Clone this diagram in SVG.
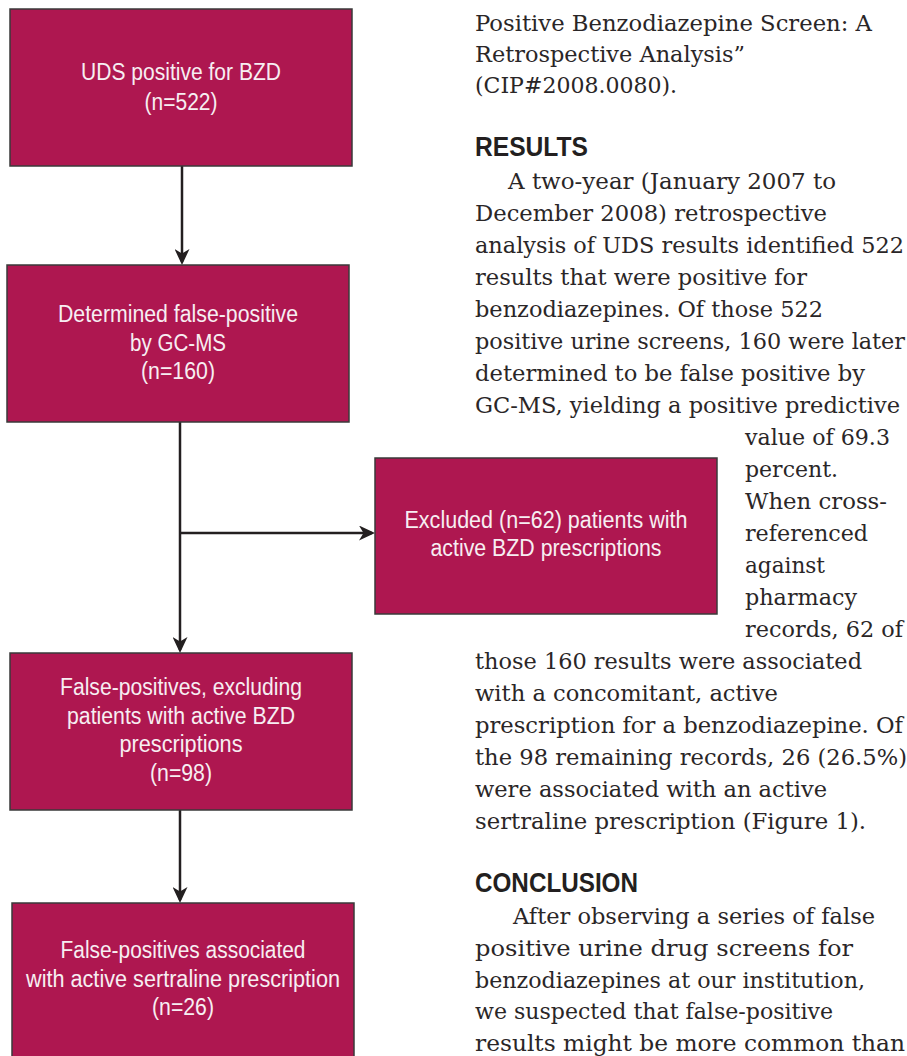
<svg xmlns="http://www.w3.org/2000/svg" width="907" height="1056" viewBox="0 0 907 1056">
<style>
.box{fill:#ae1750;stroke:#3a3a3a;stroke-width:1.5}
.bt{font-family:"Liberation Sans",Arial,sans-serif;font-size:23.5px;fill:#f7eef2;text-anchor:middle}
.con{stroke:#231f20;stroke-width:2.5;fill:none;marker-end:url(#ah)}
.body{font-family:"DejaVu Serif","Liberation Serif",serif;font-size:22px;fill:#2a2627}
.hd{font-family:"Liberation Sans",Arial,sans-serif;font-weight:bold;font-size:27.5px;fill:#231f20}
</style>
<defs>
<marker id="ah" viewBox="0 0 16 15" refX="13" refY="7.5" markerWidth="16" markerHeight="15" markerUnits="userSpaceOnUse" orient="auto">
<path d="M0,0 L16,7.5 L0,15 L4.5,7.5 z" fill="#231f20"/>
</marker>
</defs>
<g id="connectors">
<line class="con" x1="182" y1="166" x2="182" y2="262"/>
<line class="con" x1="180" y1="422" x2="180" y2="650"/>
<line class="con" x1="180" y1="533" x2="372" y2="533"/>
<line class="con" x1="180" y1="810" x2="180" y2="900"/>
</g>
<g id="node-uds">
<rect class="box" x="10" y="9" width="342" height="157"/>
<text class="bt" x="181" y="80" textLength="200" lengthAdjust="spacingAndGlyphs">UDS positive for BZD</text>
<text class="bt" x="181" y="110" textLength="73" lengthAdjust="spacingAndGlyphs">(n=522)</text>
</g>
<g id="node-falsepos">
<rect class="box" x="7" y="265" width="342" height="157"/>
<text class="bt" x="178" y="322" textLength="240" lengthAdjust="spacingAndGlyphs">Determined false-positive</text>
<text class="bt" x="178" y="351" textLength="96" lengthAdjust="spacingAndGlyphs">by GC-MS</text>
<text class="bt" x="178" y="379" textLength="74" lengthAdjust="spacingAndGlyphs">(n=160)</text>
</g>
<g id="node-excluded">
<rect class="box" x="375" y="458" width="342" height="156"/>
<text class="bt" x="546" y="528" textLength="283" lengthAdjust="spacingAndGlyphs">Excluded (n=62) patients with</text>
<text class="bt" x="546" y="556" textLength="231" lengthAdjust="spacingAndGlyphs">active BZD prescriptions</text>
</g>
<g id="node-excluding">
<rect class="box" x="10" y="653" width="342" height="157"/>
<text class="bt" x="181" y="695" textLength="242" lengthAdjust="spacingAndGlyphs">False-positives, excluding</text>
<text class="bt" x="181" y="724" textLength="228" lengthAdjust="spacingAndGlyphs">patients with active BZD</text>
<text class="bt" x="181" y="752" textLength="123" lengthAdjust="spacingAndGlyphs">prescriptions</text>
<text class="bt" x="181" y="781" textLength="62" lengthAdjust="spacingAndGlyphs">(n=98)</text>
</g>
<g id="node-sertraline">
<rect class="box" x="12" y="903" width="342" height="170"/>
<text class="bt" x="183" y="958" textLength="245" lengthAdjust="spacingAndGlyphs">False-positives associated</text>
<text class="bt" x="183" y="987" textLength="314" lengthAdjust="spacingAndGlyphs">with active sertraline prescription</text>
<text class="bt" x="183" y="1015" textLength="62" lengthAdjust="spacingAndGlyphs">(n=26)</text>
</g>
<g id="article-text">
<text class="body" x="475" y="31" textLength="397" lengthAdjust="spacingAndGlyphs">Positive Benzodiazepine Screen: A</text>
<text class="body" x="475" y="62" textLength="270" lengthAdjust="spacingAndGlyphs">Retrospective Analysis”</text>
<text class="body" x="475" y="93" textLength="202" lengthAdjust="spacingAndGlyphs">(CIP#2008.0080).</text>
<text class="hd" x="475" y="156" textLength="113" lengthAdjust="spacingAndGlyphs">RESULTS</text>
<text class="body" x="508" y="188.5" textLength="328" lengthAdjust="spacingAndGlyphs">A two-year (January 2007 to</text>
<text class="body" x="475" y="220.5" textLength="352" lengthAdjust="spacingAndGlyphs">December 2008) retrospective</text>
<text class="body" x="475" y="252.5" textLength="429" lengthAdjust="spacingAndGlyphs">analysis of UDS results identified 522</text>
<text class="body" x="475" y="284.5" textLength="332" lengthAdjust="spacingAndGlyphs">results that were positive for</text>
<text class="body" x="475" y="316.5" textLength="348" lengthAdjust="spacingAndGlyphs">benzodiazepines. Of those 522</text>
<text class="body" x="475" y="348.5" textLength="430" lengthAdjust="spacingAndGlyphs">positive urine screens, 160 were later</text>
<text class="body" x="475" y="380.5" textLength="390" lengthAdjust="spacingAndGlyphs">determined to be false positive by</text>
<text class="body" x="475" y="412.5" textLength="425" lengthAdjust="spacingAndGlyphs">GC-MS, yielding a positive predictive</text>
<text class="body" x="745" y="444.5" textLength="145" lengthAdjust="spacingAndGlyphs">value of 69.3</text>
<text class="body" x="745" y="476.5" textLength="93" lengthAdjust="spacingAndGlyphs">percent.</text>
<text class="body" x="745" y="508.5" textLength="142" lengthAdjust="spacingAndGlyphs">When cross-</text>
<text class="body" x="745" y="540.5" textLength="123" lengthAdjust="spacingAndGlyphs">referenced</text>
<text class="body" x="745" y="572.5" textLength="80" lengthAdjust="spacingAndGlyphs">against</text>
<text class="body" x="745" y="604.5" textLength="112" lengthAdjust="spacingAndGlyphs">pharmacy</text>
<text class="body" x="745" y="636.5" textLength="158" lengthAdjust="spacingAndGlyphs">records, 62 of</text>
<text class="body" x="475" y="668.5" textLength="387" lengthAdjust="spacingAndGlyphs">those 160 results were associated</text>
<text class="body" x="475" y="700.5" textLength="303" lengthAdjust="spacingAndGlyphs">with a concomitant, active</text>
<text class="body" x="475" y="732.5" textLength="428" lengthAdjust="spacingAndGlyphs">prescription for a benzodiazepine. Of</text>
<text class="body" x="475" y="764.5" textLength="432" lengthAdjust="spacingAndGlyphs">the 98 remaining records, 26 (26.5%)</text>
<text class="body" x="475" y="796.5" textLength="352" lengthAdjust="spacingAndGlyphs">were associated with an active</text>
<text class="body" x="475" y="828.5" textLength="391" lengthAdjust="spacingAndGlyphs">sertraline prescription (Figure 1).</text>
<text class="hd" x="475" y="892" textLength="163" lengthAdjust="spacingAndGlyphs">CONCLUSION</text>
<text class="body" x="513" y="924.3" textLength="362" lengthAdjust="spacingAndGlyphs">After observing a series of false</text>
<text class="body" x="475" y="956" textLength="378" lengthAdjust="spacingAndGlyphs">positive urine drug screens for</text>
<text class="body" x="475" y="987.7" textLength="390" lengthAdjust="spacingAndGlyphs">benzodiazepines at our institution,</text>
<text class="body" x="475" y="1019.4" textLength="358" lengthAdjust="spacingAndGlyphs">we suspected that false-positive</text>
<text class="body" x="475" y="1051" textLength="430" lengthAdjust="spacingAndGlyphs">results might be more common than</text>
</g>
</svg>
